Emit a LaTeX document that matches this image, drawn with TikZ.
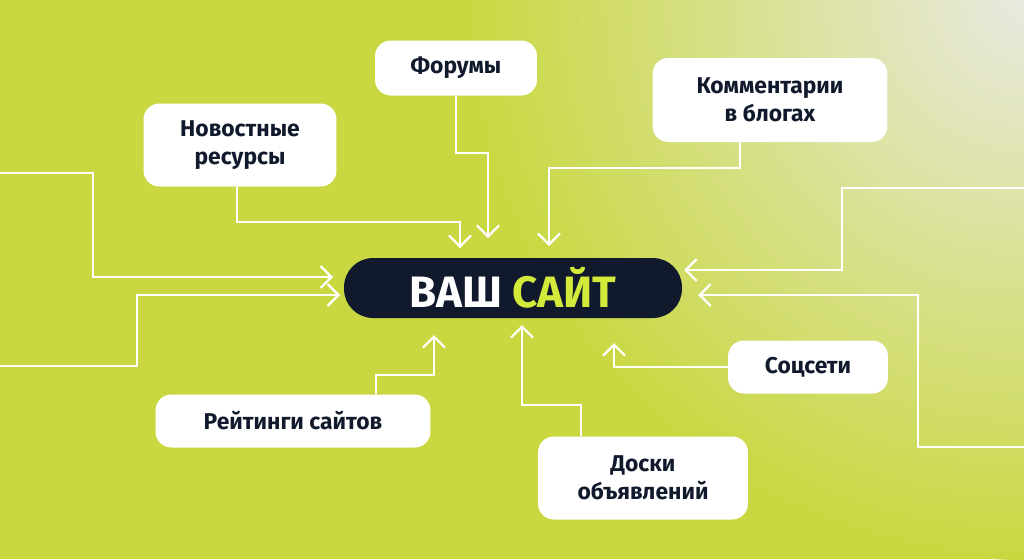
\documentclass[tikz,border=0pt]{standalone}
\usepackage{fontspec}
\setmainfont{Fira Sans}
\usetikzlibrary{arrows.meta,positioning}
\definecolor{bggreen}{HTML}{C9D840}
\definecolor{bglight}{HTML}{E9E9E0}
\definecolor{navy}{HTML}{111A2C}
\definecolor{lime}{HTML}{D4EA3A}
\tikzset{
  card/.style={draw=none,fill=white,rounded corners=9pt,align=center,font=\fontsize{13}{16}\selectfont\bfseries,text=navy,inner sep=0pt},
  conn/.style={draw=white,line width=1.3pt,-{Straight Barb[length=2.2mm,width=4.4mm]}},
}
\begin{document}
\begin{tikzpicture}[x=0.02cm,y=-0.02cm]
    % background
    \fill[bggreen] (0,0) rectangle (1024,559);
    \begin{scope}
    \clip (0,0) rectangle (1024,559);
    \shade[inner color=bglight,outer color=bggreen] (1024,0) circle (560);
    \end{scope}
    \useasboundingbox (0,0) rectangle (1024,559);
    % centre
    \node[fill=navy,rounded corners=16.5pt,minimum width=6.76cm,minimum height=1.2cm,
          font=\fontsize{25}{28}\selectfont\bfseries] (site) at (513,288)
          {\textcolor{white}{ВАШ} \textcolor{lime}{САЙТ}};
    % cards
    \node[card,minimum width=3.24cm,minimum height=1.1cm] (forum) at (456,68) {Форумы};
    \node[card,minimum width=3.86cm,minimum height=1.66cm] (news) at (240,145) {Новостные\\ресурсы};
    \node[card,minimum width=4.7cm,minimum height=1.68cm] (blogs) at (770,100) {Комментарии\\в блогах};
    \node[card,minimum width=3.2cm,minimum height=1.06cm] (social) at (808,367) {Соцсети};
    \node[card,minimum width=5.5cm,minimum height=1.06cm] (rating) at (293,421) {Рейтинги сайтов};
    \node[card,minimum width=4.2cm,minimum height=1.66cm] (boards) at (643,478) {Доски\\объявлений};
    % free ends
    \coordinate (lt) at (0,173);
    \coordinate (lb) at (0,366);
    \coordinate (rt) at (1024,188);
    \coordinate (rb) at (1024,447);
    % connectors
    \draw[conn] (forum.south) |- (488,153) -- (488,238);
    \draw[conn] (news.south -| 237,0) |- (460,222) -- (460,248);
    \draw[conn] (blogs.south -| 740,0) |- (549,168) -- (549,246);
    \draw[conn] (lt) -| (93,277) -- ([xshift=-6pt]site.west |- 0,277);
    \draw[conn] (lb) -| (137,295) -- ([xshift=-2pt]site.west |- 0,295);
    \draw[conn] (rt) -| (842,270) -- ([xshift=1pt]site.east |- 0,270);
    \draw[conn] (rb) -| (918,295) -- ([xshift=9pt]site.east |- 0,295);
    \draw[conn] (social.west) -| (614,343);
    \draw[conn] (rating.north -| 376,0) |- (434,375) -- (434,335);
    \draw[conn] (boards.north -| 581,0) |- (522,405) -- (522,325);
\end{tikzpicture}
\end{document}
